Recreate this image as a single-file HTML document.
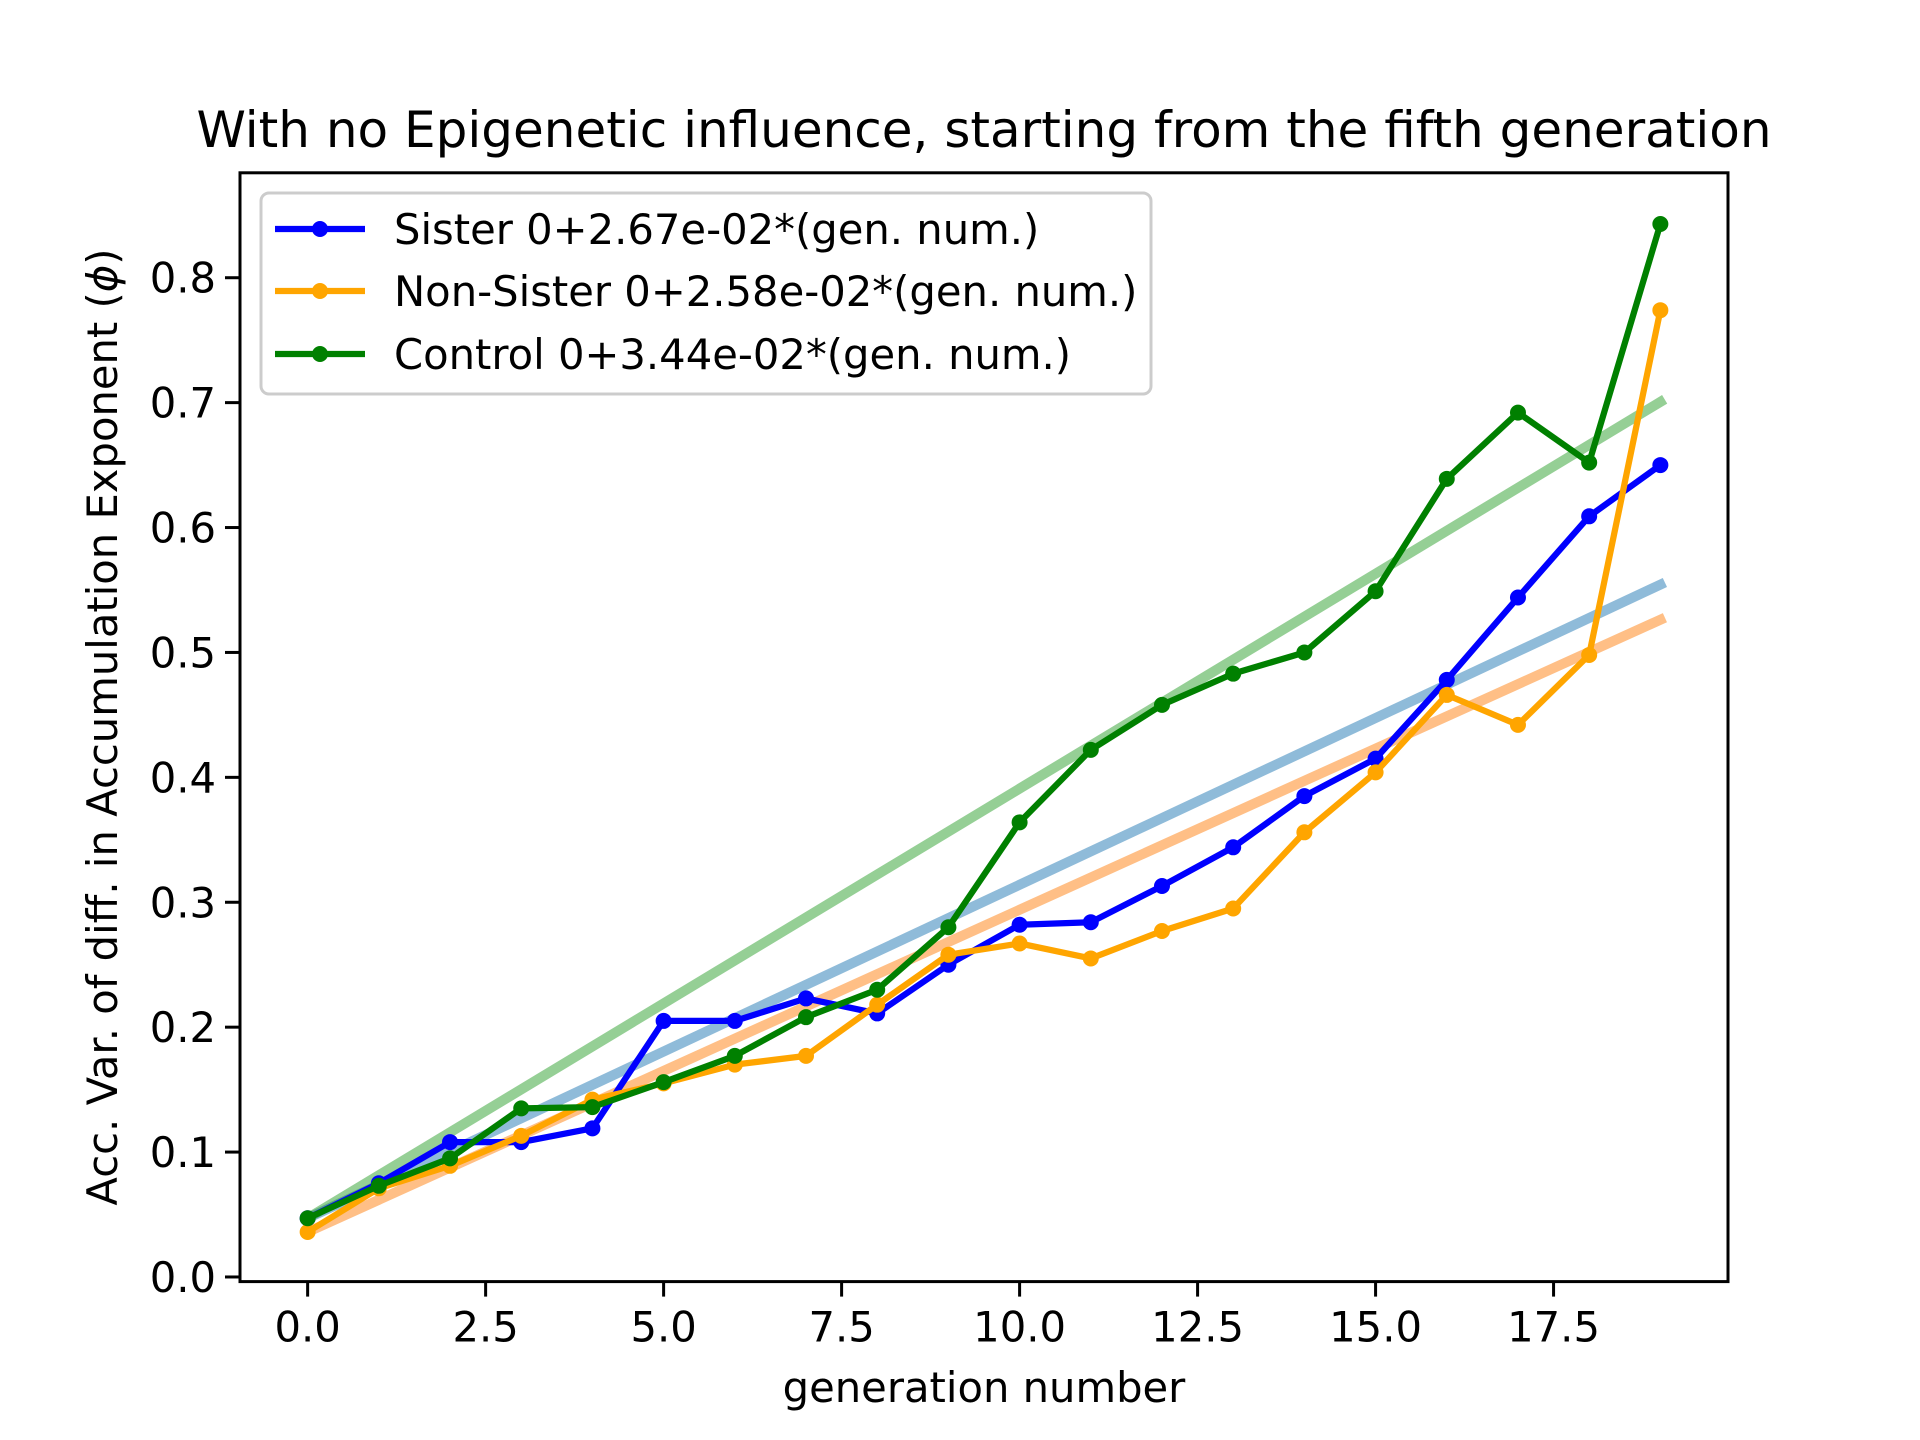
<!DOCTYPE html>
<html><head><meta charset="utf-8"><style>
html,body{margin:0;padding:0;background:#fff}
svg{display:block;font-family:"DejaVu Sans","Liberation Sans",sans-serif}
</style></head><body>
<svg id="chart" width="1920" height="1440" viewBox="0 0 1920 1440" xmlns="http://www.w3.org/2000/svg">
<rect width="1920" height="1440" fill="#fff"/>
<text x="984" y="147" font-size="50" text-anchor="middle">With no Epigenetic influence, starting from the fifth generation</text>
<g id="plot"></g>
<rect x="240" y="172.8" width="1488" height="1108.8" fill="none" stroke="#000" stroke-width="3"/>
<text x="984" y="1402" font-size="41.7" text-anchor="middle">generation number</text>
<text transform="translate(117,727) rotate(-90)" font-size="41.7" text-anchor="middle">Acc. Var. of diff. in Accumulation Exponent (<tspan font-style="italic">ϕ</tspan>)</text>
<g id="legend">
<rect x="261" y="193" width="890" height="201" rx="8" fill="#fff" fill-opacity="0.8" stroke="#ccc" stroke-width="3"/>
</g>
</svg>
<script>
const gens=[0,1,2,3,4,5,6,7,8,9,10,11,12,13,14,15,16,17,18,19];
const sister=[0.047,0.075,0.108,0.108,0.119,0.205,0.205,0.223,0.211,0.250,0.282,0.284,0.313,0.344,0.385,0.415,0.478,0.544,0.609,0.650];
const nonSister=[0.036,0.071,0.089,0.113,0.142,0.155,0.170,0.177,0.218,0.258,0.267,0.255,0.277,0.295,0.356,0.404,0.466,0.442,0.498,0.774];
const control=[0.047,0.073,0.095,0.135,0.136,0.156,0.177,0.208,0.230,0.280,0.364,0.422,0.458,0.483,0.500,0.549,0.639,0.692,0.652,0.843];
const fitIntercepts=[0.047,0.036,0.047];
const fitSlopes=[0.0267,0.0258,0.0344];
const seriesNames=["Sister 0+2.67e-02*(gen. num.)","Non-Sister 0+2.58e-02*(gen. num.)","Control 0+3.44e-02*(gen. num.)"];
const xTicks=[0,2.5,5,7.5,10,12.5,15,17.5];
const xTickLabels=["0.0","2.5","5.0","7.5","10.0","12.5","15.0","17.5"];
const yTicks=[0,0.1,0.2,0.3,0.4,0.5,0.6,0.7,0.8];
const yTickLabels=["0.0","0.1","0.2","0.3","0.4","0.5","0.6","0.7","0.8"];

const NS="http://www.w3.org/2000/svg";
const L=240,R=1728,T=172.8,B=1281.6;
const xMin=-0.95,xMax=19.95,yMin=-0.0037,yMax=0.884;
const sx=v=>L+(v-xMin)/(xMax-xMin)*(R-L);
const sy=v=>B-(v-yMin)/(yMax-yMin)*(B-T);
const plot=document.getElementById('plot');
const svg=document.getElementById('chart');
function mk(tag,attrs,parent){const e=document.createElementNS(NS,tag);for(const k in attrs)e.setAttribute(k,attrs[k]);(parent||plot).appendChild(e);return e;}

xTicks.forEach((t,i)=>{
  const l=mk('line',{x1:sx(t),x2:sx(t),y1:B,y2:B+15,stroke:'#000','stroke-width':3},svg);
  
  
  const tx=mk('text',{x:sx(t),y:B+60,'font-size':41.7,'text-anchor':'middle'},svg);
  tx.textContent=xTickLabels[i];
  
  
});
yTicks.forEach((t,i)=>{
  const l=mk('line',{x1:L-15,x2:L,y1:sy(t),y2:sy(t),stroke:'#000','stroke-width':3},svg);
  
  
  const tx=mk('text',{x:L-24,y:sy(t)+15,'font-size':41.7,'text-anchor':'end'},svg);
  tx.textContent=yTickLabels[i];
  
  
});

const fitColors=['#1f77b4','#ff7f0e','#2ca02c'];
const fitNames=['sister-fit-line','non-sister-fit-line','control-fit-line'];
fitSlopes.forEach((s,i)=>{
  const x0=gens[0],x1=gens[gens.length-1];
  const l=mk('line',{x1:sx(x0),y1:sy(fitIntercepts[i]),x2:sx(x1),y2:sy(fitIntercepts[i]+s*x1),stroke:fitColors[i],'stroke-width':10,'stroke-opacity':0.5,'stroke-linecap':'square'});
  
  
});

const series=[sister,nonSister,control];
const colors=['#0000ff','#ffa500','#008000'];
const sNames=['sister-series','non-sister-series','control-series'];
series.forEach((vals,i)=>{
  const pts=vals.map((v,j)=>sx(gens[j])+','+sy(v)).join(' ');
  const pl=mk('polyline',{points:pts,fill:'none',stroke:colors[i],'stroke-width':6.25,'stroke-linejoin':'round'});
  
  
  vals.forEach((v,j)=>{
    const c=mk('circle',{cx:sx(gens[j]),cy:sy(v),r:8,fill:colors[i]});
    
    
  });
});

const lg=document.getElementById('legend');
const ly=[229,291,354];
seriesNames.forEach((n,i)=>{
  const l=mk('line',{x1:275,x2:365,y1:ly[i],y2:ly[i],stroke:colors[i],'stroke-width':6.25},lg);
  
  
  const c=mk('circle',{cx:320,cy:ly[i],r:8,fill:colors[i]},lg);
  
  
  const t=mk('text',{x:394,y:ly[i]+15,'font-size':41.7},lg);
  t.textContent=n;
  
  
});
</script>
</body></html>
